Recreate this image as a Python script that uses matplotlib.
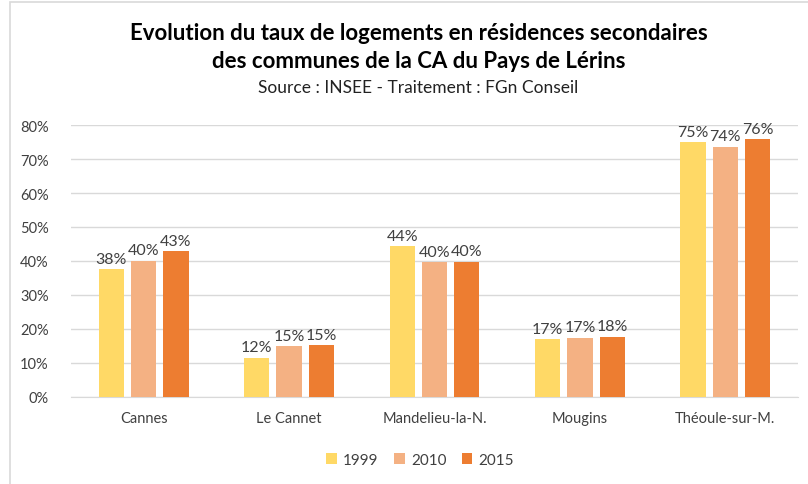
import numpy as np
import matplotlib.pyplot as plt
from matplotlib.patches import Rectangle

# données (en %)
communes = ["Cannes", "Le Cannet", "Mandelieu-la-N.", "Mougins", "Théoule-sur-M."]
annees = ["1999", "2010", "2015"]
taux_1999 = [37.6, 11.6, 44.4, 17.0, 75.0]
taux_2010 = [40.1, 15.0, 39.6, 17.4, 73.6]
taux_2015 = [42.8, 15.3, 39.8, 17.7, 75.9]
couleurs = ["#FFD966", "#F4B183", "#ED7D31"]

plt.rcParams['font.family'] = ['Lato', 'DejaVu Sans']

fig = plt.figure(figsize=(8.08, 4.85), dpi=100)
ax = fig.add_axes([0.0879, 0.1794, 0.8997, 0.5608])

x = np.arange(len(communes))
largeur = 0.174
pas = 0.222
series = [taux_1999, taux_2010, taux_2015]
for i, (vals, coul, an) in enumerate(zip(series, couleurs, annees)):
    pos = x + (i - 1) * pas
    ax.bar(pos, vals, largeur, color=coul, label=an, zorder=3)
    for p, v in zip(pos, vals):
        ax.text(p, v + 1.0, f"{round(v):.0f}%", ha="center", va="bottom",
                fontsize=11.5, color="#404040")

ax.set_xlim(-0.5, len(communes) - 0.5)
ax.set_ylim(0, 80)
ax.set_yticks(np.arange(0, 81, 10))
ax.set_yticklabels([f"{v}%" for v in range(0, 81, 10)])
ax.set_xticks(x)
ax.set_xticklabels(communes)
ax.tick_params(axis="both", length=0, labelsize=10.5, colors="#404040")
ax.tick_params(axis="y", pad=16)
ax.tick_params(axis="x", pad=10)
ax.grid(axis="y", color="#D9D9D9", linewidth=1, zorder=0)
for s in ["top", "right", "left"]:
    ax.spines[s].set_visible(False)
ax.spines["bottom"].set_color("#D9D9D9")

cx = 0.518
fig.text(cx, 1 - 33 / 485, "Evolution du taux de logements en résidences secondaires",
         ha="center", va="center", fontsize=16, fontweight="bold", color="#000000")
fig.text(cx, 1 - 62 / 485, "des communes de la CA du Pays de Lérins",
         ha="center", va="center", fontsize=16, fontweight="bold", color="#000000")
fig.text(cx, 1 - 88 / 485, "Source : INSEE - Traitement : FGn Conseil",
         ha="center", va="center", fontsize=12.5, color="#222222")

fig.legend(loc="center", bbox_to_anchor=(0.52, 1 - 461 / 485), ncol=3, frameon=False,
           fontsize=11, handlelength=0.7, handleheight=0.7, columnspacing=1.0,
           handletextpad=0.4, labelcolor="#404040")

fig.patches.append(Rectangle((10 / 808, -0.01), 1.0, 1 - 3 / 485 + 0.01,
                             transform=fig.transFigure, fill=False,
                             edgecolor="#D9D9D9", linewidth=1.2))

fig.savefig("out.png", dpi=100)
